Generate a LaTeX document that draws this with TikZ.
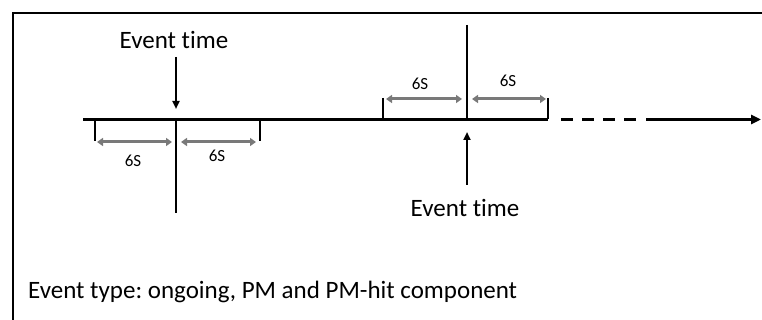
\documentclass[tikz,border=0pt]{standalone}
\usepackage{fontspec}
\setmainfont[Ligatures=NoCommon]{Carlito}
\usetikzlibrary{arrows.meta}
\begin{document}
\frenchspacing
\begin{tikzpicture}[x=1pt,y=-1pt,
  blk/.style={line width=2.8pt,black},
  axis/.style={line width=3.3pt,black},
  span/.style={line width=3pt,color=gray!95!black,{Triangle[length=6pt,width=8pt]}-{Triangle[length=6pt,width=8pt]}},
  evarrow/.style={line width=2.2pt,-{Triangle[length=8pt,width=7pt]}},
  lbl/.style={font=\fontsize{25}{28}\selectfont,inner sep=0pt},
  small/.style={font=\fontsize{17}{19}\selectfont,inner sep=0pt}]
\useasboundingbox (0,0) rectangle (762,320);
% frame
\draw[line width=2.8pt] (13,322) -- (13,13) -- (764,13);
% axis
\coordinate (a0) at (83,119.5);
\coordinate (a1) at (548,119.5);
\coordinate (a2) at (646,119.5);
\coordinate (a3) at (761,119.5);
\draw[axis] (a0) -- (a1);
\draw[axis,dash pattern=on 12pt off 9pt] ([xshift=13pt]a1) -- ([xshift=-2pt]a2);
\draw[axis,-{Triangle[length=10pt,width=9pt]}] (a2) -- (a3);
% left event
\coordinate (l0) at (176,119);
\coordinate (l1) at (176,213);
\draw[blk] (l0) -- (l1);
\coordinate (lt1a) at (95,119); \coordinate (lt1b) at (95,141);
\coordinate (lt2a) at (260,119); \coordinate (lt2b) at (260,141);
\draw[blk] (lt1a) -- (lt1b);
\draw[blk] (lt2a) -- (lt2b);
\coordinate (ls1) at (97,142); \coordinate (ls2) at (172,142);
\coordinate (ls3) at (181,142); \coordinate (ls4) at (256,142);
\draw[span] (ls1) -- (ls2);
\draw[span] (ls3) -- (ls4);
\node[small] (l6a) at (133,161) {6S};
\node[small] (l6b) at (217,156) {6S};
\node[lbl] (et1) at (174,40) {Event time};
\coordinate (ea1) at (176,57);
\coordinate (eb1) at (176,109);
\draw[evarrow] (ea1) -- (eb1);
% right event
\coordinate (r0) at (467,25);
\coordinate (r1) at (467,119);
\draw[blk] (r0) -- (r1);
\coordinate (rt1a) at (383,98); \coordinate (rt1b) at (383,119);
\coordinate (rt2a) at (548,98); \coordinate (rt2b) at (548,119);
\draw[blk] (rt1a) -- (rt1b);
\draw[blk] (rt2a) -- (rt2b);
\coordinate (rs1) at (386,99); \coordinate (rs2) at (462,99);
\coordinate (rs3) at (472,99); \coordinate (rs4) at (546,99);
\draw[span] (rs1) -- (rs2);
\draw[span] (rs3) -- (rs4);
\node[small] (r6a) at (420,84) {6S};
\node[small] (r6b) at (508,81) {6S};
\node[lbl] (et2) at (465,208) {Event time};
\coordinate (ea2) at (467,185);
\coordinate (eb2) at (467,132);
\draw[evarrow] (ea2) -- (eb2);
% bottom text
\node[lbl,anchor=west,font=\fontsize{25}{28}\selectfont] (etype) at (28,292) {Event type: ongoing, PM and PM-hit component};
\end{tikzpicture}
\end{document}
